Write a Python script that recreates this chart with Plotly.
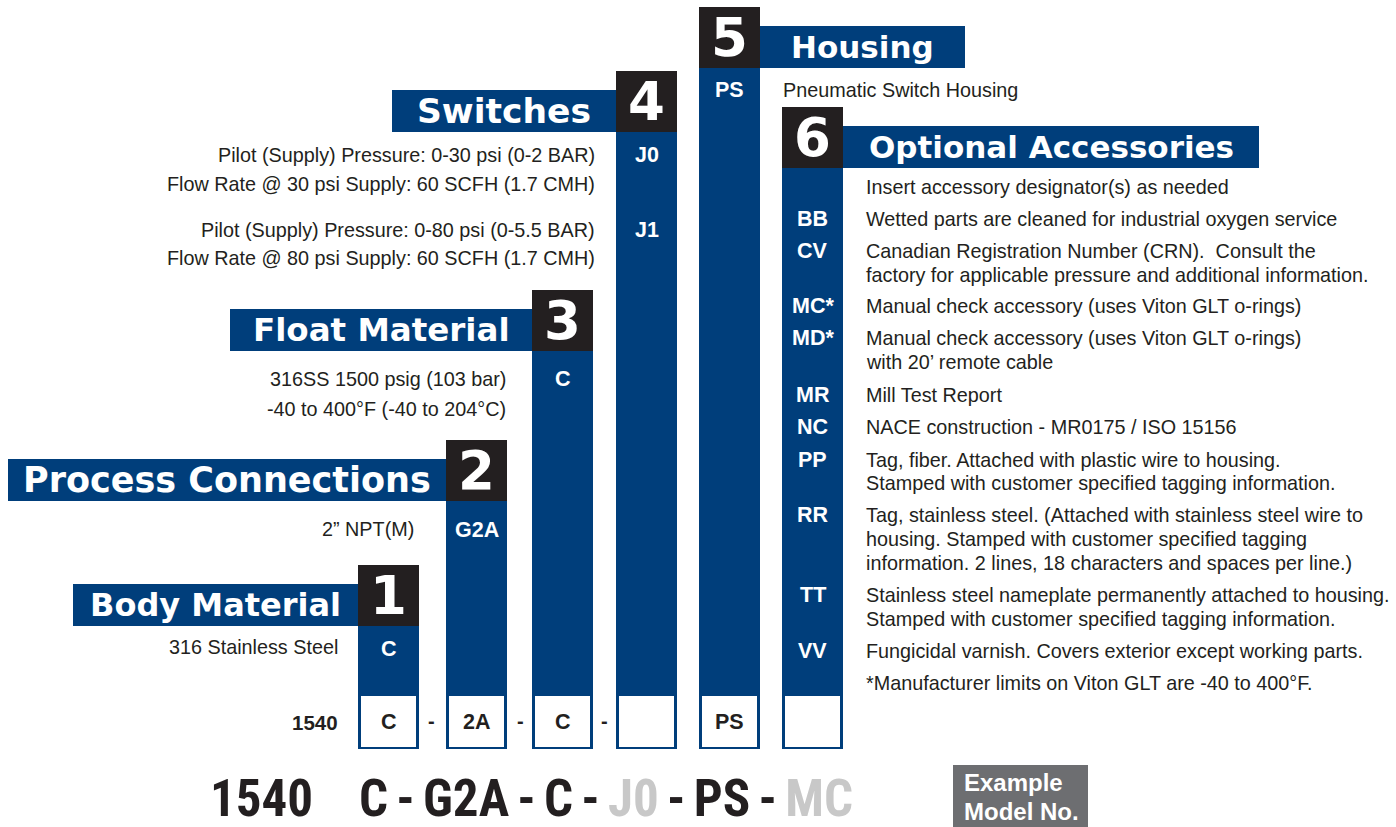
import plotly.graph_objects as go

# ---------------- data (text content) ----------------
model_prefix = "1540"
section_numbers = ["1", "2", "3", "4", "5", "6"]
section_titles = ["Body Material", "Process Connections", "Float Material",
                  "Switches", "Housing", "Optional Accessories"]
selected_codes = ["C", "2A", "C", "", "PS", ""]

body_codes = ["C"]
body_desc = ["316 Stainless Steel"]
conn_codes = ["G2A"]
conn_desc = ["2\u201d NPT(M)"]
float_codes = ["C"]
float_desc = ["316SS 1500 psig (103 bar)", "-40 to 400\u00b0F (-40 to 204\u00b0C)"]
switch_codes = ["J0", "J1"]
switch_desc = [
    ["Pilot (Supply) Pressure: 0-30 psi (0-2 BAR)",
     "Flow Rate @ 30 psi Supply: 60 SCFH (1.7 CMH)"],
    ["Pilot (Supply) Pressure: 0-80 psi (0-5.5 BAR)",
     "Flow Rate @ 80 psi Supply: 60 SCFH (1.7 CMH)"],
]
housing_codes = ["PS"]
housing_desc = ["Pneumatic Switch Housing"]
acc_intro = "Insert accessory designator(s) as needed"
acc_codes = ["BB", "CV", "MC*", "MD*", "MR", "NC", "PP", "RR", "TT", "VV"]
acc_desc = [
    ["Wetted parts are cleaned for industrial oxygen service"],
    ["Canadian Registration Number (CRN).  Consult the",
     "factory for applicable pressure and additional information."],
    ["Manual check accessory (uses Viton GLT o-rings)"],
    ["Manual check accessory (uses Viton GLT o-rings)", "with 20\u2019 remote cable"],
    ["Mill Test Report"],
    ["NACE construction - MR0175 / ISO 15156"],
    ["Tag, fiber. Attached with plastic wire to housing.",
     "Stamped with customer specified tagging information."],
    ["Tag, stainless steel. (Attached with stainless steel wire to",
     "housing. Stamped with customer specified tagging",
     "information. 2 lines, 18 characters and spaces per line.)"],
    ["Stainless steel nameplate permanently attached to housing.",
     "Stamped with customer specified tagging information."],
    ["Fungicidal varnish. Covers exterior except working parts."],
]
acc_footnote = "*Manufacturer limits on Viton GLT are -40 to 400\u00b0F."
example_parts = ["C", "G2A", "C", "J0", "PS", "MC"]
example_optional = [False, False, False, True, False, True]
example_label = ["Example", "Model No."]

# ---------------- layout geometry / styles ----------------
W, H = 1396, 827
BLUE = "#003e7b"
BLACK = "#231f20"
GREY_BOX = "#6d6e71"
LIGHT = "#c8c8c8"
TXT = "#231f20"

col_left = [358, 446, 532, 616, 699, 782]
col_w = 61
black_top = [565, 440, 290, 71, 7, 107]
box_h = 61
banner_off = 19
banner_left = [73, 8, 230, 392, None, None]
banner_right = [None, None, None, None, 965, 1259]
banner_size = [32, 35, 32.5, 34.5, 31, 31]
col_bottom = 749
wbox_top, wbox_bot = 696, 747

BODY_FONT = dict(family="Liberation Sans, Arial, sans-serif", size=19.8, color=TXT)
CODE_FONT = dict(family="Liberation Sans, Arial, sans-serif", size=21.5, color="white", weight=700)
DIGIT_FONT = dict(family="DejaVu Sans, sans-serif", size=53, color="white", weight=700)

fig = go.Figure()
fig.add_trace(go.Scatter(x=[0], y=[0], mode="markers", marker=dict(opacity=0),
                         hoverinfo="skip", showlegend=False))

shapes = []
annots = []


def rect(x0, y0, x1, y1, color):
    shapes.append(dict(type="rect", xref="x", yref="y", x0=x0, y0=y0, x1=x1, y1=y1,
                       fillcolor=color, line=dict(width=0), layer="below"))


def text(x, y, s, font, xanchor="center", yanchor="middle"):
    annots.append(dict(x=x, y=y, xref="x", yref="y", text=s, showarrow=False,
                       font=font, xanchor=xanchor, yanchor=yanchor))


for i in range(6):
    x0 = col_left[i]
    x1 = x0 + col_w
    cx = (x0 + x1) / 2
    bt = black_top[i]
    rect(x0, bt, x1, col_bottom, BLUE)
    rect(x0, bt, x1, bt + box_h, BLACK)
    if banner_left[i] is not None:
        bx0, bx1 = banner_left[i], x0
    else:
        bx0, bx1 = x1, banner_right[i]
    rect(bx0, bt + banner_off, bx1, bt + box_h, BLUE)
    bf = dict(family="DejaVu Sans, sans-serif", size=banner_size[i], color="white", weight=700)
    text((bx0 + bx1) / 2, bt + (banner_off + box_h) / 2, section_titles[i], bf)
    text(cx, bt + box_h / 2, section_numbers[i], DIGIT_FONT)
    rect(x0 + 3, wbox_top, x1 - 3, wbox_bot, "white")
    if selected_codes[i]:
        text(cx, 722, selected_codes[i], dict(family="Liberation Sans, Arial", size=21.5, color=TXT, weight=700))

for dx in [431, 520, 604]:
    text(dx, 721, "-", dict(family="Liberation Sans, Arial", size=20, color=TXT, weight=700))
text(340, 722, model_prefix, dict(family="Liberation Sans, Arial", size=20.5, color=TXT, weight=700),
     xanchor="right")

cx = [c + col_w / 2 for c in col_left]
text(cx[0], 649, body_codes[0], CODE_FONT)
text(340, 647, body_desc[0], BODY_FONT, xanchor="right")
text(cx[1], 530, conn_codes[0], CODE_FONT)
text(416, 529, conn_desc[0], BODY_FONT, xanchor="right")
text(cx[2], 379, float_codes[0], CODE_FONT)
for k, line in enumerate(float_desc):
    text(508, 379 + 30 * k, line, BODY_FONT, xanchor="right")
sw_y = [155, 229.5]
for code, lines, y in zip(switch_codes, switch_desc, sw_y):
    text(cx[3], y, code, CODE_FONT)
    for k, line in enumerate(lines):
        text(597, y + 28.5 * k, line, BODY_FONT, xanchor="right")
text(cx[4], 90, housing_codes[0], CODE_FONT)
text(781, 89.5, housing_desc[0], BODY_FONT, xanchor="left")
DESC_X = 864
text(DESC_X, 187, acc_intro, BODY_FONT, xanchor="left")
acc_y = [219, 251, 306, 338, 395, 427, 459.5, 515, 595, 650.5]
for code, lines, y in zip(acc_codes, acc_desc, acc_y):
    text(cx[5], y, code, CODE_FONT)
    for k, line in enumerate(lines):
        text(DESC_X, y + 23.8 * k, line, BODY_FONT, xanchor="left")
text(DESC_X, 683, acc_footnote, BODY_FONT, xanchor="left")

# big example model number
BIG = dict(family="Roboto Condensed, Roboto, sans-serif", size=51, color=TXT, weight=700)
text(208, 798, model_prefix, BIG, xanchor="left")
parts_html = []
for p, opt in zip(example_parts, example_optional):
    parts_html.append(f"<span style='color:{LIGHT}'>{p}</span>" if opt else p)
SEP = "\u2006-\u2006"
text(357, 798, SEP.join(parts_html), BIG, xanchor="left")

rect(953, 765, 1088, H, GREY_BOX)
EX_FONT = dict(family="Liberation Sans, Arial", size=24, color="white", weight=700)
text(962, 782, example_label[0], EX_FONT, xanchor="left")
text(962, 811, example_label[1], EX_FONT, xanchor="left")

fig.update_layout(
    width=W, height=H, margin=dict(l=0, r=0, t=0, b=0, pad=0),
    paper_bgcolor="white", plot_bgcolor="white",
    xaxis=dict(range=[0, W], visible=False, fixedrange=True),
    yaxis=dict(range=[H, 0], visible=False, fixedrange=True),
    shapes=shapes, annotations=annots, showlegend=False,
)

fig.write_html("out.html", config={"displayModeBar": False, "staticPlot": True},
               post_script="document.body.style.margin='0';document.body.style.overflow='hidden';")
